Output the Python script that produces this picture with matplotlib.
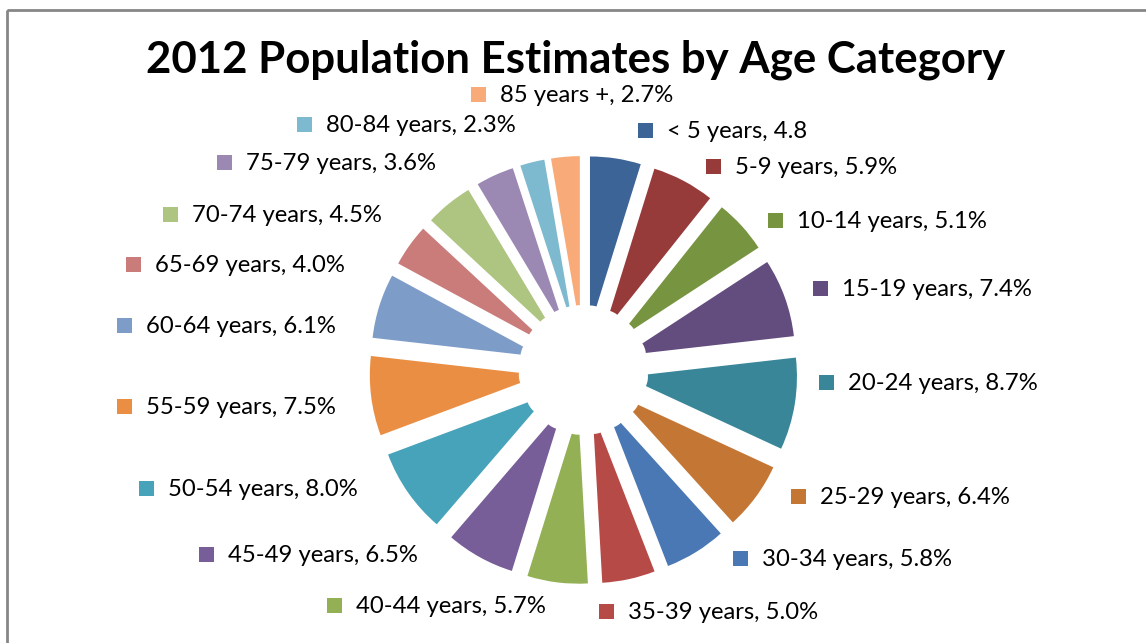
import matplotlib
matplotlib.use("Agg")
import matplotlib.pyplot as plt
from matplotlib.patches import Rectangle

# ---------------- data ----------------
categories = ["< 5 years", "5-9 years", "10-14 years", "15-19 years", "20-24 years",
              "25-29 years", "30-34 years", "35-39 years", "40-44 years", "45-49 years",
              "50-54 years", "55-59 years", "60-64 years", "65-69 years", "70-74 years",
              "75-79 years", "80-84 years", "85 years +"]
values = [4.8, 5.9, 5.1, 7.4, 8.7, 6.4, 5.8, 5.0, 5.7, 6.5, 8.0, 7.5, 6.1, 4.0, 4.5, 3.6, 2.3, 2.7]
label_texts = ["< 5 years, 4.8"] + [f"{c}, {v:.1f}%" for c, v in zip(categories[1:], values[1:])]
title = "2012 Population Estimates by Age Category"

# ---------------- style / layout ----------------
colors = ["#3D6496", "#963A3A", "#779441", "#634C7E", "#388698", "#C47635",
          "#4A78B4", "#B64A47", "#93B055", "#785E98", "#47A3BA", "#E98E43",
          "#7E9CC8", "#C97C7A", "#AEC582", "#9C89B3", "#7EBACF", "#F8AB78"]
# legend-style label anchors: (square left x, square centre y) in pixels
label_pos = [(638, 130.5), (706, 166.5), (768, 220.5), (813, 288.5), (819, 382.5),
             (791, 496.5), (733, 558.5), (599, 611.5), (327, 605.5), (199, 554.5),
             (139, 488.5), (117, 406.5), (117, 325.5), (126, 264.5), (163, 214),
             (217, 162.5), (297, 124.5), (471, 94.5)]

W, H = 1146, 643
fig = plt.figure(figsize=(W / 100, H / 100), dpi=100)
ax = fig.add_axes([0, 0, 1, 1])

cx, cy, R = 583.5, 370, 171
offset = 43  # explode distance (data units = pixels)
ax.pie(values, colors=colors, explode=[offset] * len(values), radius=R,
       center=(cx, cy), startangle=-90, counterclock=True,
       wedgeprops=dict(width=R - 22, linewidth=0), frame=True)

ax.set_xlim(0, W)
ax.set_ylim(H, 0)
ax.set_aspect("equal", adjustable="box")
ax.axis("off")

font = "Lato"
for (sx, sy), txt, col in zip(label_pos, label_texts, colors):
    ax.add_patch(Rectangle((sx, sy - 7.5), 15, 15, facecolor=col, edgecolor="none"))
    ax.text(sx + 29, sy + 1, txt, fontsize=17.2, family=font, ha="left", va="center",
            color="black")

ax.text(576, 60, title, fontsize=31.5, family=font, fontweight="bold",
        ha="center", va="center", color="black")

# chart-area frame
ax.add_patch(Rectangle((7, 10), W + 20, H + 20, facecolor="none",
                       edgecolor="#868686", linewidth=2))

fig.savefig("out.png", dpi=100)
